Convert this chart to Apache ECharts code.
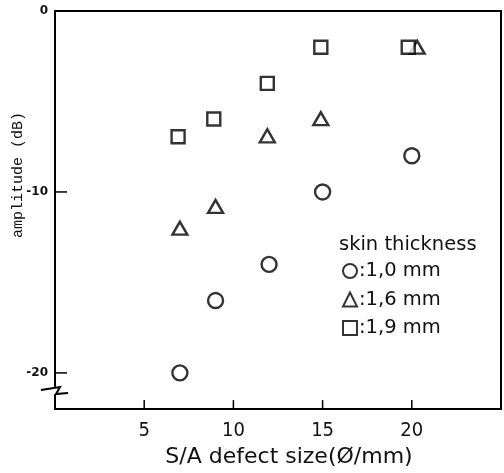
<!DOCTYPE html>
<html>
<head>
<meta charset="utf-8">
<script src="https://cdn.jsdelivr.net/npm/echarts@6/dist/echarts.min.js"></script>
<style>html,body{margin:0;padding:0;background:#fff}#c{width:504px;height:473px}</style>
</head>
<body>
<div id="c"></div>
<script>
var seriesNames = [':1,0 mm', ':1,6 mm', ':1,9 mm'];
var legendTitle = 'skin thickness';
var xName = 'S/A defect size(\u00D8/mm)';
var yName = 'amplitude (dB)';
var xTicks = [5, 10, 15, 20];
var yTicks = [0, -10, -20];
var x10 = [7, 9, 12, 15, 20];
var y10 = [-20, -16, -14, -10, -8];
var x16 = [7, 9, 11.9, 14.9, 20.3];
var y16 = [-12, -10.8, -6.9, -5.95, -2];
var x19 = [6.9, 8.9, 11.9, 14.9, 19.8];
var y19 = [-6.95, -5.97, -4, -2, -2];

function pairs(xs, ys) { return xs.map(function (x, i) { return [x, ys[i]]; }); }

var chart = echarts.init(document.getElementById('c'));
var mk = {color: '#fff', borderColor: '#000', borderWidth: 2.4};
var option = {
  animation: false,
  grid: {left: 55, top: 11, right: 2, bottom: 63, show: true, borderColor: '#000', borderWidth: 2},
  xAxis: {
    type: 'value', min: 0, max: 25, interval: 5, position: 'bottom',
    name: xName, nameLocation: 'middle', nameGap: 36,
    nameTextStyle: {fontFamily: 'DejaVu Sans', fontSize: 22, color: '#111', padding: [0, 0, 0, 22]},
    axisLine: {show: true, lineStyle: {color: '#000', width: 2}},
    axisTick: {show: false},
    axisLabel: {show: true, margin: 12, fontFamily: 'DejaVu Sans Condensed', fontSize: 20, color: '#111',
      formatter: function (v) { return xTicks.indexOf(v) >= 0 ? String(v) : ''; }},
    splitLine: {show: false}
  },
  yAxis: {
    type: 'value', min: -22, max: 0, position: 'left',
    axisLine: {show: true, lineStyle: {color: '#000', width: 2}},
    axisTick: {show: false},
    axisLabel: {customValues: yTicks, margin: 7, fontFamily: 'DejaVu Sans', fontSize: 12, fontWeight: 'bold', color: '#111'},
    splitLine: {show: false}
  },
  title: {text: legendTitle, left: 334, top: 230, textStyle: {fontFamily: 'DejaVu Sans', fontSize: 19.5, fontWeight: 'normal', color: '#111'}},
  legend: {
    orient: 'vertical', left: 342, top: 261, padding: 0, itemWidth: 14, itemHeight: 14, itemGap: 8.5,
    textStyle: {fontFamily: 'DejaVu Sans', fontSize: 19.5, color: '#111', lineHeight: 19, padding: [0, 0, 0, -3]},
    data: seriesNames
  },
  series: [
    {name: seriesNames[0], type: 'scatter', symbol: 'circle', symbolSize: 15, itemStyle: mk, data: pairs(x10, y10)},
    {name: seriesNames[1], type: 'scatter', symbol: 'triangle', symbolSize: [15, 13], itemStyle: mk, data: pairs(x16, y16)},
    {name: seriesNames[2], type: 'scatter', symbol: 'rect', symbolSize: 13, itemStyle: mk, data: pairs(x19, y19)}
  ]
};
chart.setOption(option);

var g = [];
yTicks.forEach(function (v) {
  var q = chart.convertToPixel({gridIndex: 0}, [0, v]);
  g.push({type: 'line', shape: {x1: q[0], y1: q[1], x2: q[0] + 12, y2: q[1]}, style: {stroke: '#000', lineWidth: 1.5}, z: 101});
});
xTicks.forEach(function (v) {
  var q = chart.convertToPixel({gridIndex: 0}, [v, -22]);
  g.push({type: 'line', shape: {x1: q[0], y1: q[1], x2: q[0], y2: q[1] - 9}, style: {stroke: '#000', lineWidth: 1.5}, z: 101});
});
var p = chart.convertToPixel({gridIndex: 0}, [0, -21.0]);
var ax = p[0], ay = p[1];
g.push(
  {type: 'rect', shape: {x: ax - 3, y: ay - 4, width: 6, height: 8}, style: {fill: '#fff'}, z: 100},
  {type: 'polyline', shape: {points: [[ax - 14, ay - 1], [ax + 5, ay - 4], [ax + 1, ay + 3], [ax + 13, ay + 2]]}, style: {stroke: '#000', lineWidth: 2, fill: null}, z: 101},
  {type: 'line', shape: {x1: ax, y1: ay - 14, x2: ax, y2: ay - 3}, style: {stroke: '#000', lineWidth: 2}, z: 101},
  {type: 'line', shape: {x1: ax, y1: ay + 3, x2: ax, y2: ay + 14}, style: {stroke: '#000', lineWidth: 2}, z: 101},
  {type: 'text', x: 18, y: 175, rotation: Math.PI / 2, style: {text: yName, fontFamily: 'Liberation Mono', fontSize: 15, fill: '#111', align: 'center', verticalAlign: 'middle'}, z: 100}
);
chart.setOption({graphic: g});
</script>
</body>
</html>
